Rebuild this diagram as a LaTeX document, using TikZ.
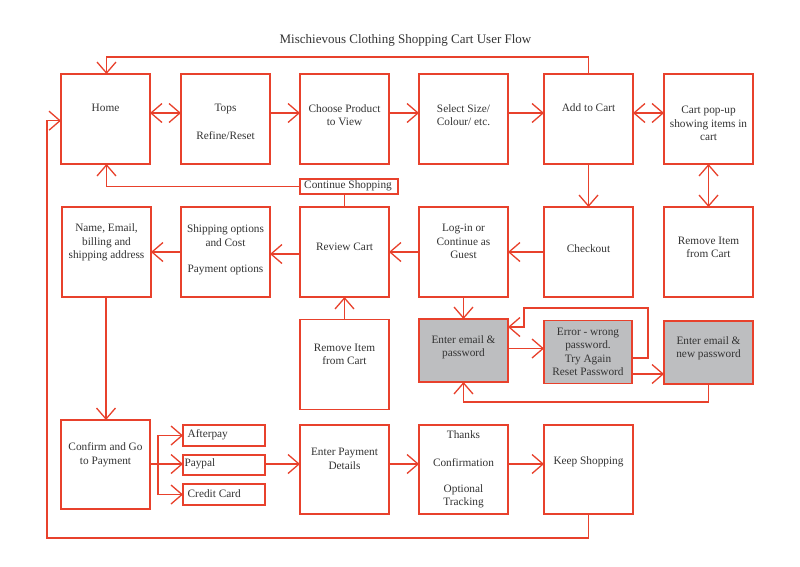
\documentclass[tikz,border=0pt]{standalone}
\usepackage{fontspec}
\setmainfont{Liberation Serif}
\usetikzlibrary{arrows.meta}
\definecolor{fred}{HTML}{E8412C}
\definecolor{fgrey}{HTML}{BDBEC0}
\definecolor{ftext}{HTML}{333333}
\begin{document}
\begin{tikzpicture}[x=1pt,y=-1pt,
  box/.style={draw=fred, line width=1.3pt, minimum width=89pt, minimum height=90pt, inner sep=0pt, outer sep=0pt},
  gbox/.style={box, fill=fgrey, minimum height=63pt},
  sbox/.style={draw=fred, line width=1.3pt, minimum width=82pt, minimum height=21pt, inner sep=0pt, outer sep=0pt},
  txt/.style={text=ftext, align=center, inner sep=0pt, font=\fontsize{11.3}{13.5}\selectfont},
  conn/.style={draw=fred, line width=1.3pt},
  arr/.style={conn, -{Straight Barb[length=11pt,width=19pt]}},
  arrboth/.style={conn, {Straight Barb[length=11pt,width=19pt]}-{Straight Barb[length=11pt,width=19pt]}}
]
\useasboundingbox[fill=white] (0,0) rectangle (800,566);

% title
\node[txt, font=\fontsize{13}{15}\selectfont] (title) at (405.5,40) {Mischievous Clothing Shopping Cart User Flow};

% top row
\node[box] (home) at (105.5,119) {};
\node[box] (tops) at (225.5,119) {};
\node[box] (choose) at (344.5,119) {};
\node[box] (select) at (463.5,119) {};
\node[box] (add) at (588.5,119) {};
\node[box] (popup) at (708.5,119) {};

\node[txt] (thome) at (105.5,108) {Home};
\node[txt] (ttops) at (225.5,108.5) {Tops};
\node[txt] (trefine) at (225.5,136) {Refine/Reset};
\node[txt] (tchoose) at (344.5,115) {Choose Product\\to View};
\node[txt] (tselect) at (463.5,115) {Select Size/\\Colour/ etc.};
\node[txt] (tadd) at (588.5,108) {Add to Cart};
\node[txt] (tpopup) at (708.5,123.5) {Cart pop-up\\showing items in\\cart};

% continue shopping
\node[draw=fred, line width=1.3pt, minimum width=98pt, minimum height=15pt, inner sep=0pt, outer sep=0pt] (cont) at (349,186.5) {};
\node[txt] (tcont) at (348,186) {Continue Shopping};

% middle row
\node[box] (name) at (106.5,252) {};
\node[box] (ship) at (225.5,252) {};
\node[box] (review) at (344.5,252) {};
\node[box] (login) at (463.5,252) {};
\node[box] (checkout) at (588.5,252) {};
\node[box] (remr) at (708.5,252) {};
\node[box] (remm) at (344.5,364.5) {};

\node[txt] (tname) at (106.5,242.6) {Name, Email,\\billing and\\shipping address};
\node[txt] (tship) at (225.5,235.8) {Shipping options\\and Cost};
\node[txt] (tpayopt) at (225.5,269.5) {Payment options};
\node[txt] (treview) at (344.5,246.7) {Review Cart};
\node[txt] (tlogin) at (463.5,241.7) {Log-in or\\Continue as\\Guest};
\node[txt] (tcheckout) at (588.5,249) {Checkout};
\node[txt] (tremr) at (708.5,247.5) {Remove Item\\from Cart};
\node[txt] (tremm) at (344.5,354.3) {Remove Item\\from Cart};

% grey row
\node[gbox] (email) at (463.5,350.5) {};
\node[gbox, minimum width=88pt] (error) at (588,352) {};
\node[gbox] (newpw) at (708.5,352.5) {};
\node[txt] (temail) at (463.5,347.3) {Enter email \&\\password};
\node[txt] (terror) at (588,352) {Error - wrong\\password.\\Try Again\\Reset Password};
\node[txt] (tnewpw) at (708.5,348.3) {Enter email \&\\new password};

% bottom row
\node[box, minimum height=89pt] (confirm) at (105.5,464.5) {};
\node[sbox] (afterpay) at (224,435.5) {};
\node[sbox, minimum height=20pt] (paypal) at (224,465) {};
\node[sbox] (credit) at (224,494.5) {};
\node[box, minimum height=89pt] (pay) at (344.5,469.5) {};
\node[box, minimum height=89pt] (thanks) at (463.5,469.5) {};
\node[box, minimum height=89pt] (keep) at (588.5,469.5) {};

\node[txt] (tconfirm) at (105.5,454.5) {Confirm and Go\\to Payment};
\node[txt, anchor=west] (tafter) at (187.5,435) {Afterpay};
\node[txt, anchor=west] (tpaypal) at (184.3,464) {Paypal};
\node[txt, anchor=west] (tcredit) at (187.5,494) {Credit Card};
\node[txt] (tpay) at (344.5,459) {Enter Payment\\Details};
\node[txt] (tthanks) at (463.5,434.7) {Thanks};
\node[txt] (tconfn) at (463.5,462.3) {Confirmation};
\node[txt] (toptional) at (463.5,496.5) {Optional\\Tracking};
\node[txt] (tkeep) at (588.5,461.7) {Keep Shopping};

% helper coordinates
\coordinate (errA) at (648,308);
\coordinate (errB) at (524,327);
\coordinate (e1) at ([yshift=2pt]email.east);
\coordinate (e2) at ([yshift=-22pt]error.east);
\coordinate (br) at (158,464);
\coordinate (loopBL) at (47,538);

% top row connectors
\draw[arrboth] ([yshift=6pt]home.east) -- ([yshift=6pt]tops.west);
\draw[arr] ([yshift=6pt]tops.east) -- ([yshift=6pt]choose.west);
\draw[arr] ([yshift=6pt]choose.east) -- ([yshift=6pt]select.west);
\draw[arr] ([yshift=6pt]select.east) -- ([yshift=6pt]add.west);
\draw[arrboth] ([yshift=6pt]add.east) -- ([yshift=6pt]popup.west);
\draw[arr] (add.north) -- ++(0,-17) -| ([xshift=1pt]home.north);

% continue shopping
\draw[conn] (review.north) -- (review.north |- cont.south);
\draw[arr] (cont.west) -| ([xshift=1pt]home.south);

% vertical links
\draw[arr] (add.south) -- (checkout.north);
\draw[arrboth] (popup.south) -- (remr.north);

% middle row
\draw[arr] (checkout.west) -- (login.east);
\draw[arr] (login.west) -- (review.east);
\draw[arr] ([yshift=-2pt]review.west) -- ([yshift=-2pt]ship.west -| ship.east);
\draw[arr] (ship.west) -- (ship.west -| name.east);
\draw[arr] ([xshift=-0.5pt]name.south) -- ([xshift=-0.5pt]name.south |- confirm.north);
\draw[arr] (remm.north) -- (review.south);

% grey row
\draw[arr] (login.south) -- (email.north);
\draw[arr] (e1) -- (e1 -| error.west);
\draw[arr] ([yshift=-6pt]error.east) -| (errA) -| (errB) -- (errB -| email.east);
\draw[arr] (e2) -- (e2 -| newpw.west);
\draw[arr] (newpw.south) -- ++(0,18) -| (email.south);

% bottom row
\draw[conn] (br |- confirm.east) -- (br);
\draw[conn] (confirm.east |- br) -- (br);
\draw[arr] (br) |- (afterpay.west);
\draw[arr] (br) |- (credit.west);
\draw[arr] (br) -- (br -| paypal.west);
\draw[arr] ([yshift=1pt]paypal.east) -- ([yshift=1pt]paypal.east -| pay.west);
\draw[arr] ([yshift=5.5pt]pay.east) -- ([yshift=5.5pt]thanks.west);
\draw[arr] ([yshift=5.5pt]thanks.east) -- ([yshift=5.5pt]keep.west);
\draw[arr] (keep.south) |- (loopBL) |- ([yshift=-1.7pt]home.west);
\end{tikzpicture}
\end{document}
